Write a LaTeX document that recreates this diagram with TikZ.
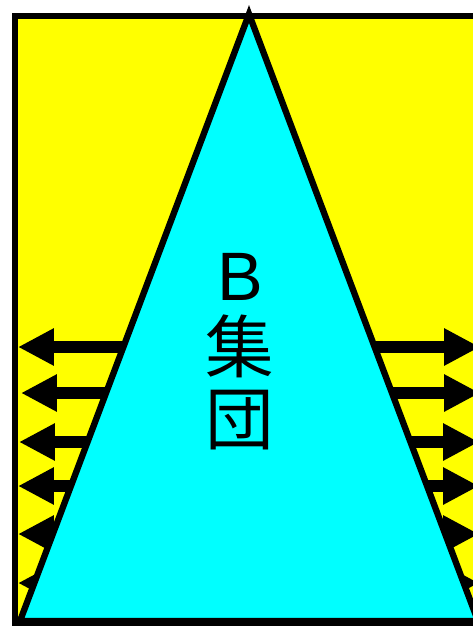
\documentclass[tikz,border=0pt]{standalone}
\usepackage{fontspec}
\usepackage{tikz}
\usetikzlibrary{arrows.meta}
\newfontfamily\cjk{Noto Sans CJK JP}
\newfontfamily\latin{Liberation Sans}
\definecolor{field}{HTML}{FFFF00}
\definecolor{group}{HTML}{00FFFF}

\begin{document}
\begin{tikzpicture}[
  x=0.02cm,y=-0.02cm,
  frame/.style={draw=black,line width=3.4pt,fill=field},
  push/.style={line width=6.4pt,black,
               -{Triangle[length=0.72cm,width=0.70cm]}},
  wedge/.style={draw=black,line width=3.6pt,fill=group},
  tag/.style={font=\cjk\fontsize{39}{41}\selectfont,align=center}
]
\clip (0,0) rectangle (473,626);
\draw[frame] (15,16) rectangle (483,623);

% axis points and border points of the arrows
\coordinate (c1) at (249,347); \coordinate (l1) at (18,347); \coordinate (r1) at (480,347);
\coordinate (c2) at (249,393); \coordinate (l2) at (21,393); \coordinate (r2) at (480,393);
\coordinate (c3) at (249,442); \coordinate (l3) at (19,442); \coordinate (r3) at (479,442);
\coordinate (c4) at (249,486); \coordinate (l4) at (18,486); \coordinate (r4) at (479,486);
\coordinate (c5) at (249,534); \coordinate (l5) at (18,534); \coordinate (r5) at (479,534);
\coordinate (c6) at (249,583); \coordinate (l6) at (18,583); \coordinate (r6) at (479,583);
\draw[push] (c1)--(l1); \draw[push] (c1)--(r1);
\draw[push] (c2)--(l2); \draw[push] (c2)--(r2);
\draw[push] (c3)--(l3); \draw[push] (c3)--(r3);
\draw[push] (c4)--(l4); \draw[push] (c4)--(r4);
\draw[push] (c5)--(l5); \draw[push] (c5)--(r5);
\draw[push] (c6)--(l6); \draw[push] (c6)--(r6);

\coordinate (apex) at (249,14);
\coordinate (bl) at (20,621);
\coordinate (br) at (478,621);
\draw[wedge] (apex)--(bl)--(br)--cycle;

\node[tag] (name) at (240,352) {{\latin B}\\集\\団};
\end{tikzpicture}
\end{document}
